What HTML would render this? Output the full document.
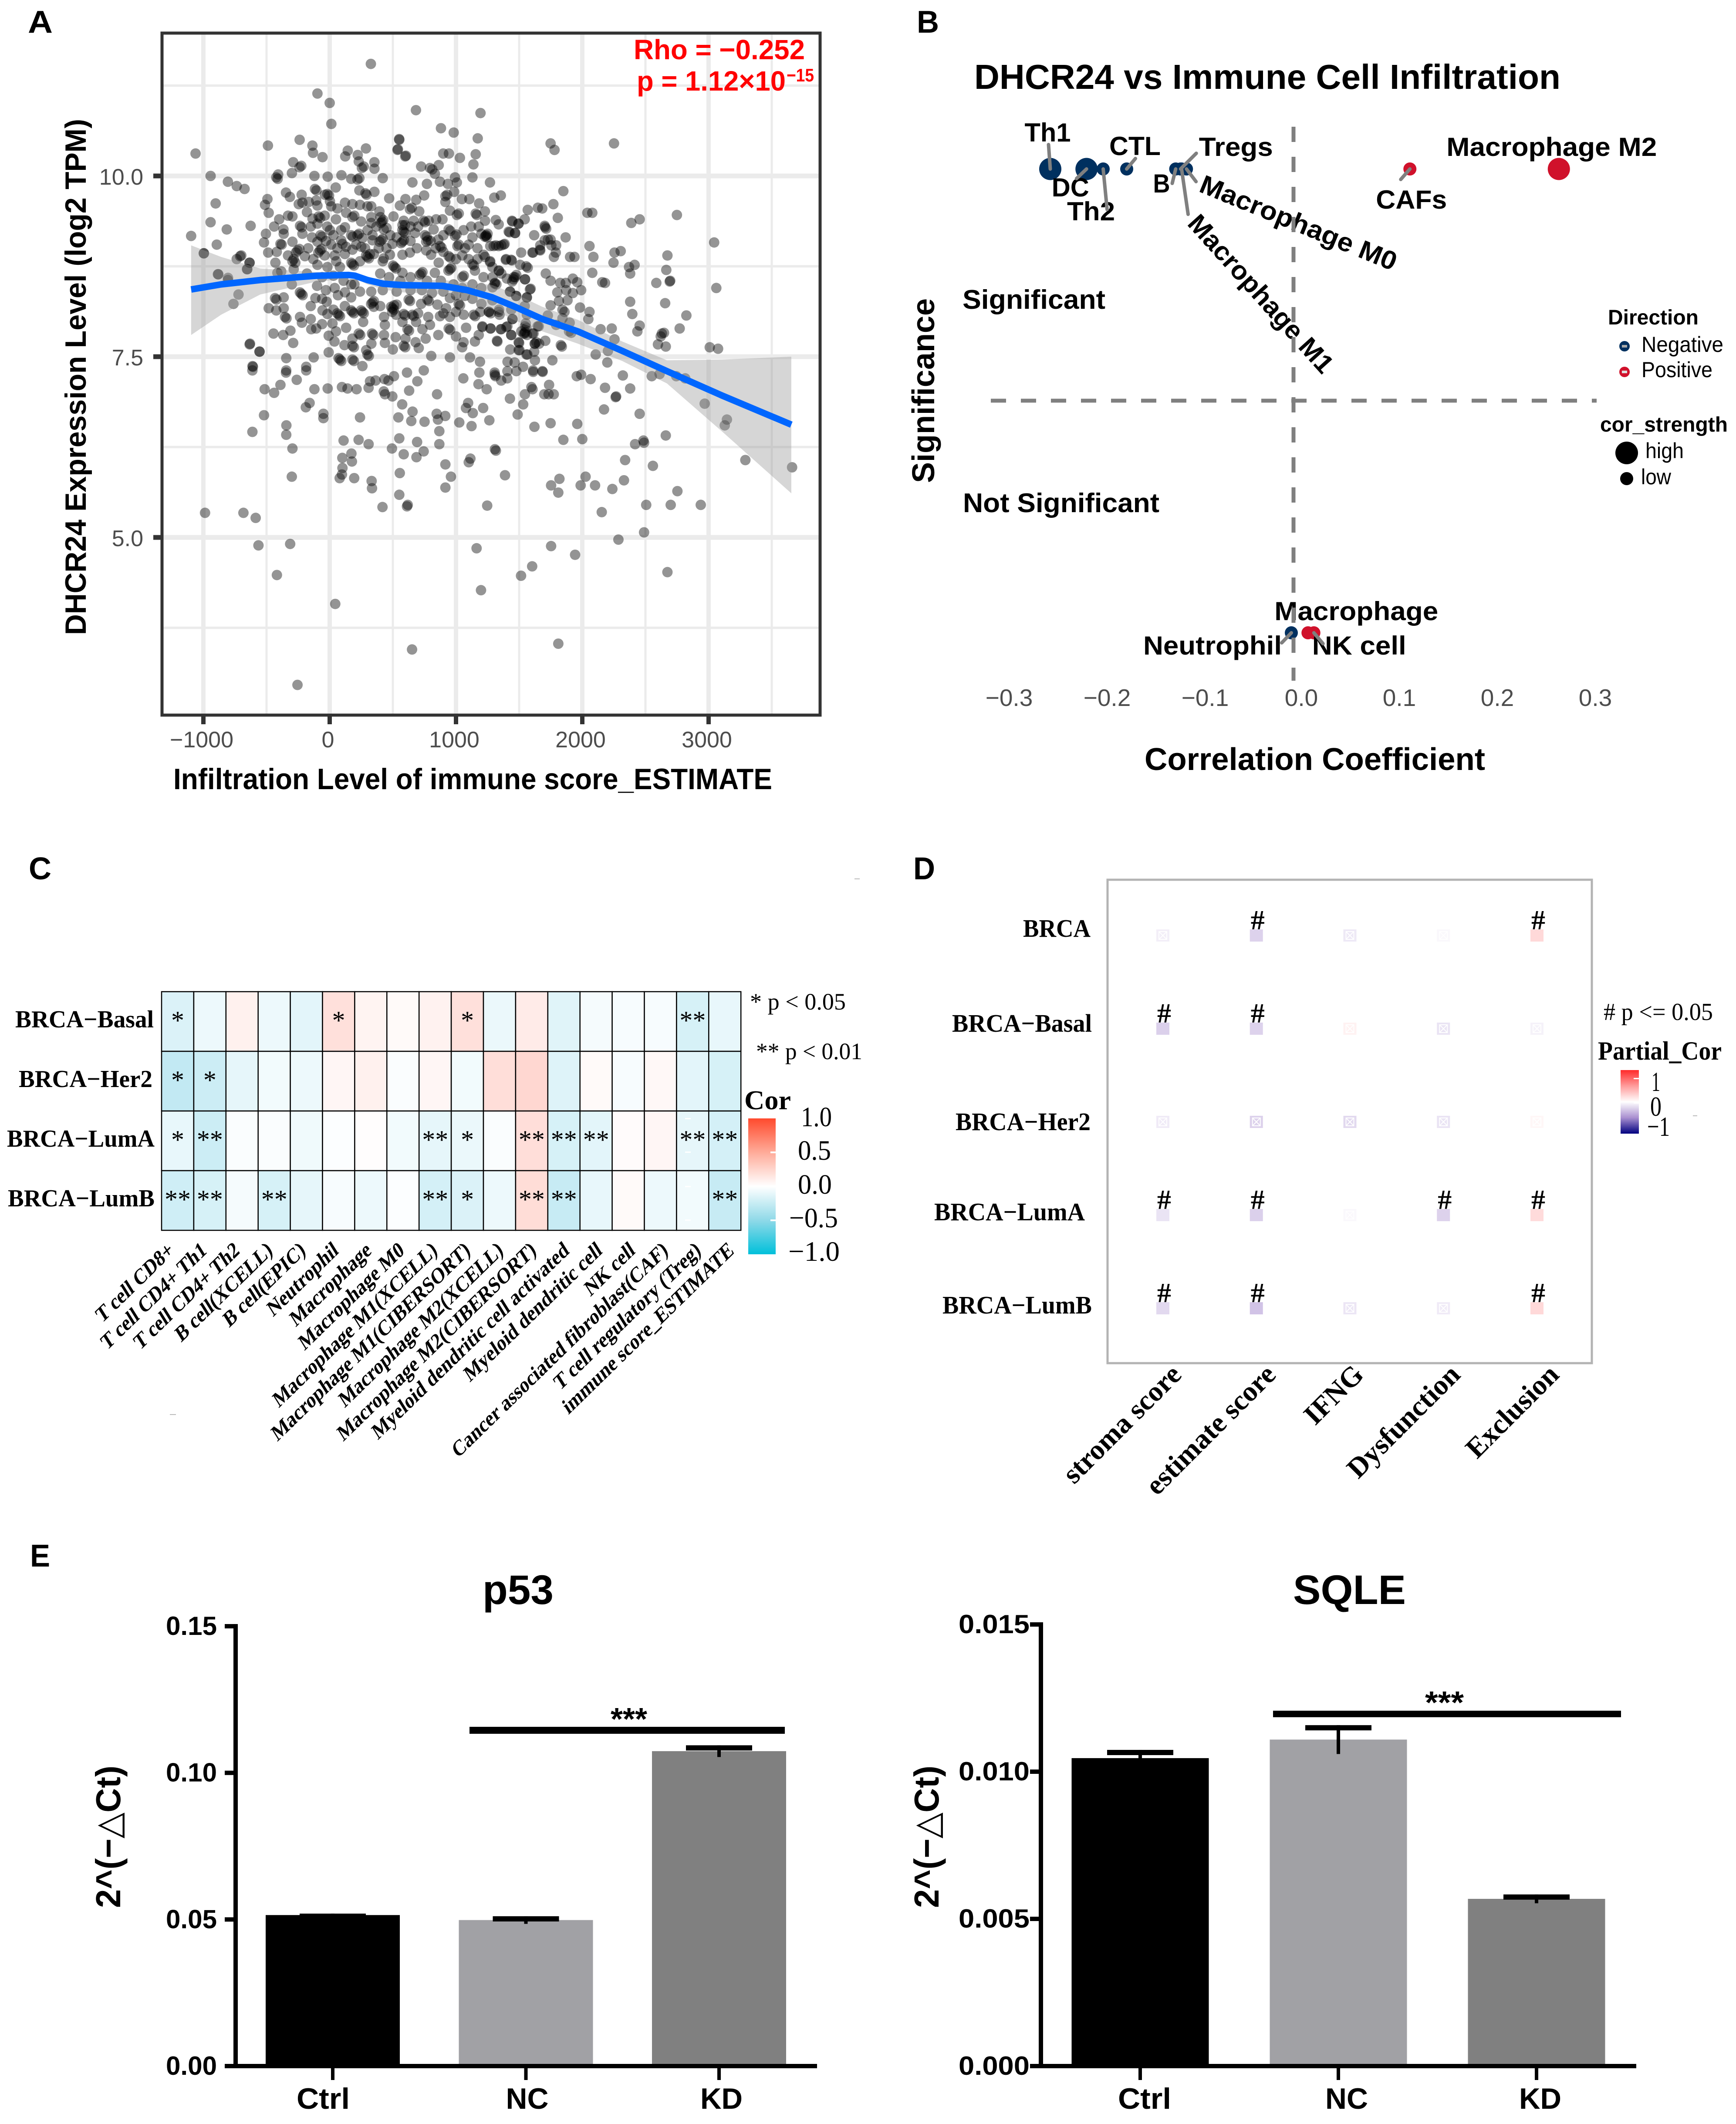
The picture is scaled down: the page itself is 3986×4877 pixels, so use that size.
<!DOCTYPE html>
<html lang="en">
<head>
<meta charset="utf-8">
<title>DHCR24 immune infiltration figure</title>
<style>
html,body{margin:0;padding:0;background:#fff}
svg{display:block}
.sb{font-family:"Liberation Sans",sans-serif;font-weight:bold;fill:#000}
.sr{font-family:"Liberation Sans",sans-serif;fill:#000}
.tb{font-family:"Liberation Serif",serif;font-weight:bold;fill:#000}
.tr{font-family:"Liberation Serif",serif;fill:#000}
</style>
</head>
<body>
<svg id="fig" xmlns="http://www.w3.org/2000/svg" width="3986" height="4877" viewBox="0 0 3986 4877">
<defs>
<linearGradient id="corGrad" x1="0" y1="0" x2="0" y2="1">
<stop offset="0" stop-color="#ff4a2d"/><stop offset=".25" stop-color="#ffab99"/><stop offset=".5" stop-color="#ffffff"/><stop offset=".75" stop-color="#8fd9e8"/><stop offset="1" stop-color="#00c0da"/>
</linearGradient>
<linearGradient id="partialGrad" x1="0" y1="0" x2="0" y2="1">
<stop offset="0" stop-color="#ff2a2a"/><stop offset=".25" stop-color="#ff9c9c"/><stop offset=".5" stop-color="#ffffff"/><stop offset=".75" stop-color="#a98fd0"/><stop offset="1" stop-color="#00007f"/>
</linearGradient>
<clipPath id="clipA"><rect x="375" y="79" width="1505" height="1560"/></clipPath>
</defs>
<rect x="0" y="0" width="3986" height="4877" fill="#fff"/>

<!-- Panel labels -->
<text class="sb" x="64" y="75" font-size="72" textLength="57" lengthAdjust="spacingAndGlyphs">A</text>
<text class="sb" x="2105" y="75" font-size="72" textLength="51" lengthAdjust="spacingAndGlyphs">B</text>
<text class="sb" x="66" y="2019" font-size="72" textLength="52" lengthAdjust="spacingAndGlyphs">C</text>
<text class="sb" x="2097" y="2019" font-size="72" textLength="50" lengthAdjust="spacingAndGlyphs">D</text>
<text class="sb" x="69" y="3597" font-size="72" textLength="46" lengthAdjust="spacingAndGlyphs">E</text>

<!-- Panel A -->
<g id="panelA">
<g id="gridA"></g>
<g id="pointsA" clip-path="url(#clipA)"></g>
<g id="smoothA" clip-path="url(#clipA)"></g>
<rect x="372" y="76" width="1511" height="1566" fill="none" stroke="#333" stroke-width="7"/>
<g id="axesA"></g>
<text class="sb" x="398" y="1812" font-size="68" textLength="1375" lengthAdjust="spacingAndGlyphs">Infiltration Level of immune score_ESTIMATE</text>
<text class="sb" transform="translate(197,1458) rotate(-90)" x="0" y="0" font-size="68" textLength="1185" lengthAdjust="spacingAndGlyphs">DHCR24 Expression Level (log2 TPM)</text>
<text class="sb" x="1455" y="136" font-size="64" style="fill:#ff0000" textLength="393" lengthAdjust="spacingAndGlyphs">Rho = −0.252</text>
<text class="sb" x="1462" y="208" font-size="64" style="fill:#ff0000" textLength="342" lengthAdjust="spacingAndGlyphs">p = 1.12×10</text>
<text class="sb" x="1806" y="187" font-size="42" style="fill:#ff0000" textLength="63" lengthAdjust="spacingAndGlyphs">−15</text>
</g>

<!-- Panel B -->
<g id="panelB">
<text class="sb" x="2237" y="204" font-size="80" textLength="1346" lengthAdjust="spacingAndGlyphs">DHCR24 vs Immune Cell Infiltration</text>
<g id="marksB"></g>
<line x1="2970" y1="291" x2="2970" y2="1563" stroke="#7f7f7f" stroke-width="9" stroke-dasharray="35 34"/>
<line x1="2275" y1="920" x2="3666" y2="920" stroke="#7f7f7f" stroke-width="9" stroke-dasharray="35 34"/>
<g id="axesB"></g>
<text class="sb" x="2210" y="709" font-size="62" textLength="328" lengthAdjust="spacingAndGlyphs">Significant</text>
<text class="sb" x="2211" y="1176" font-size="62" textLength="451" lengthAdjust="spacingAndGlyphs">Not Significant</text>
<text class="sb" transform="translate(2145,1109) rotate(-90)" x="0" y="0" font-size="72" textLength="424" lengthAdjust="spacingAndGlyphs">Significance</text>
<text class="sb" x="2628" y="1768" font-size="72" textLength="782" lengthAdjust="spacingAndGlyphs">Correlation Coefficient</text>
<text class="sb" x="3692" y="745" font-size="48" textLength="208" lengthAdjust="spacingAndGlyphs">Direction</text>
<circle cx="3730" cy="795" r="12" fill="#00305f"/>
<line x1="3724" y1="795" x2="3736" y2="795" stroke="#aaa" stroke-width="6"/>
<text class="sr" x="3769" y="808" font-size="50" textLength="188" lengthAdjust="spacingAndGlyphs">Negative</text>
<circle cx="3730" cy="854" r="12" fill="#d0112b"/>
<line x1="3724" y1="854" x2="3736" y2="854" stroke="#ddd" stroke-width="6"/>
<text class="sr" x="3769" y="866" font-size="50" textLength="163" lengthAdjust="spacingAndGlyphs">Positive</text>
<text class="sb" x="3674" y="991" font-size="48" textLength="293" lengthAdjust="spacingAndGlyphs">cor_strength</text>
<circle cx="3735" cy="1040" r="26" fill="#000"/>
<text class="sr" x="3778" y="1052" font-size="50" textLength="88" lengthAdjust="spacingAndGlyphs">high</text>
<circle cx="3735" cy="1099" r="15" fill="#000"/>
<text class="sr" x="3768" y="1112" font-size="50" textLength="69" lengthAdjust="spacingAndGlyphs">low</text>
</g>

<!-- Panel C -->
<g id="panelC">
<g id="cellsC"></g>
<g id="labelsC"></g>
<text class="tr" x="1722" y="2318" font-size="54" textLength="220" lengthAdjust="spacingAndGlyphs">* p &lt; 0.05</text>
<text class="tr" x="1736" y="2432" font-size="54" textLength="244" lengthAdjust="spacingAndGlyphs">** p &lt; 0.01</text>
<text class="tb" x="1709" y="2547" font-size="62" textLength="107" lengthAdjust="spacingAndGlyphs">Cor</text>
<rect x="1718" y="2568" width="63" height="312" fill="url(#corGrad)"/>
<g fill="#fff">
<rect x="1769" y="2644" width="12" height="4"/>
<rect x="1769" y="2722" width="12" height="4"/>
<rect x="1769" y="2800" width="12" height="4"/>
<rect x="1573" y="2567" width="13" height="3"/>
<rect x="1573" y="2644" width="13" height="3"/>
<rect x="1573" y="2723" width="13" height="3"/>
<rect x="1573" y="2800" width="13" height="3"/>
</g>
<text class="tr" x="1839" y="2586" font-size="65" textLength="71" lengthAdjust="spacingAndGlyphs">1.0</text>
<text class="tr" x="1832" y="2663" font-size="65" textLength="76" lengthAdjust="spacingAndGlyphs">0.5</text>
<text class="tr" x="1832" y="2741" font-size="65" textLength="78" lengthAdjust="spacingAndGlyphs">0.0</text>
<text class="tr" x="1812" y="2818" font-size="65" textLength="112" lengthAdjust="spacingAndGlyphs">−0.5</text>
<text class="tr" x="1810" y="2895" font-size="65" textLength="118" lengthAdjust="spacingAndGlyphs">−1.0</text>
<rect x="1962" y="2017" width="12" height="2" fill="#bbb"/>
<rect x="390" y="3247" width="14" height="2" fill="#bbb"/>
</g>

<!-- Panel D -->
<g id="panelD">
<rect x="2543" y="2020" width="1112" height="1110" fill="none" stroke="#b3b3b3" stroke-width="5"/>
<g id="cellsD"></g>
<text class="tr" x="3682" y="2342" font-size="56" textLength="251" lengthAdjust="spacingAndGlyphs"># p &lt;= 0.05</text>
<text class="tb" x="3669" y="2433" font-size="60" textLength="284" lengthAdjust="spacingAndGlyphs">Partial_Cor</text>
<rect x="3721" y="2457" width="42" height="146" fill="url(#partialGrad)"/>
<rect x="3751" y="2475" width="12" height="3" fill="#fff"/>
<rect x="3751" y="2531" width="12" height="3" fill="#fff"/>
<text class="tr" x="3792" y="2505" font-size="64" textLength="20" lengthAdjust="spacingAndGlyphs">1</text>
<text class="tr" x="3789" y="2562" font-size="64" textLength="26" lengthAdjust="spacingAndGlyphs">0</text>
<text class="tr" x="3782" y="2608" font-size="64" textLength="52" lengthAdjust="spacingAndGlyphs">−1</text>
<rect x="3887" y="2561" width="10" height="2" fill="#bbb"/>
</g>

<!-- Panel E -->
<g id="panelE">
<text class="sb" x="1108" y="3683" font-size="95" textLength="163" lengthAdjust="spacingAndGlyphs">p53</text>
<text class="sb" x="2969" y="3683" font-size="95" textLength="259" lengthAdjust="spacingAndGlyphs">SQLE</text>
<g id="chartP53"></g>
<g id="chartSQLE"></g>
<rect x="1078" y="3965" width="724" height="16" fill="#000"/>
<text class="sb" x="1402" y="3972" font-size="72" textLength="84" lengthAdjust="spacingAndGlyphs">***</text>
<rect x="2923" y="3928" width="799" height="15" fill="#000"/>
<text class="sb" x="3272" y="3934" font-size="72" textLength="89" lengthAdjust="spacingAndGlyphs">***</text>
<text class="sb" transform="translate(276,4381) rotate(-90)" x="0" y="0" font-size="80" textLength="327" lengthAdjust="spacingAndGlyphs" style="font-family:'Liberation Sans','DejaVu Sans',sans-serif">2^(−△Ct)</text>
<text class="sb" transform="translate(2155,4381) rotate(-90)" x="0" y="0" font-size="80" textLength="327" lengthAdjust="spacingAndGlyphs" style="font-family:'Liberation Sans','DejaVu Sans',sans-serif">2^(−△Ct)</text>
</g>
</svg>

<script>
/* ---------- Panel A data ---------- */
const scatterXTicks = [-1000, 0, 1000, 2000, 3000];
const scatterXMinor = [-500, 500, 1500, 2500, 3500];
const scatterYTicks = [10.0, 7.5, 5.0];
const scatterYMinor = [11.25, 8.75, 6.25, 3.75];
const scatterPoints = [
[326,11.55],[-97,11.14],[0,11.01],[683,10.91],[13,10.72],[1194,10.87],[881,10.66],[982,10.6],[1172,10.52],[551,10.5],[537,10.36],[603,10.28],[-238,10.5],[-137,10.42],[-132,10.32],[-489,10.42],[-1062,10.31],[-943,10],[-806,9.92],[-736,9.86],[-674,9.82],[-903,9.62],[-943,9.36],[-815,9.26],[-1097,9.17],[-626,9.31],[-894,9.05],[-996,8.93],[-709,8.89],[-634,8.8],[-885,8.64],[-806,8.56],[-652,8.71],[-722,8.36],[-762,8.23],[-634,7.67],[-555,7.57],[-608,7.36],[-515,7.05],[-440,7],[-520,6.69],[-612,6.46],[-344,6.42],[-295,6.23],[-300,5.84],[-987,5.34],[-683,5.34],[-586,5.27],[-564,4.89],[-313,4.91],[-418,4.48],[44,4.08],[652,3.45],[-255,2.96],[1810,3.53],[2674,4.52],[1198,4.27],[1163,4.85],[1515,4.47],[1603,4.6],[1753,4.88],[1943,4.76],[2286,4.97],[2489,5.07],[2154,5.35],[2506,5.45],[2700,5.45],[2938,5.45],[2753,5.64],[2238,5.67],[2330,5.79],[2101,5.72],[1987,5.72],[2026,5.84],[1810,5.62],[1819,5.81],[1753,5.72],[1247,5.44],[1388,5.86],[1101,6.04],[1114,6.09],[916,5.69],[960,5.84],[916,6.01],[612,5.43],[551,5.59],[555,5.89],[418,5.42],[335,5.68],[194,5.82],[79,5.82],[97,5.87],[101,5.96],[176,6.05],[586,6.15],[687,6.11],[744,6.19],[692,6.32],[551,6.37],[493,6.23],[308,6.29],[229,6.35],[110,6.34],[1308,6.22],[1316,6.2],[868,6.29],[868,6.47],[1123,6.54],[1026,6.59],[1264,6.62],[1621,6.53],[1749,6.58],[1850,6.35],[2000,6.36],[1960,6.57],[2339,6.07],[2418,6.29],[2489,6.31],[2484,6.34],[2559,5.99],[2661,6.41],[2454,6.71],[2172,6.77],[2969,6.85],[3145,6.63],[3128,6.55],[3291,6.07],[3661,5.97],[3009,7.63],[3075,7.61],[2771,7.89],[2824,8.07],[2656,8.24],[2586,8.52],[2661,7.64],[2630,7.82],[2621,7.78],[2647,7.83],[2599,7.67],[2692,8.54],[2696,8.55],[2665,8.7],[2674,8.9],[3061,8.45],[3044,9.08],[2749,9.46],[2454,9.4],[2388,9.35],[2304,8.96],[2255,8.94],[2247,8.8],[2379,8.65],[2414,8.77],[2370,8.74],[2379,8.26],[2396,8.09],[2454,7.93],[2436,7.85],[2079,9.49],[2040,9.49],[2057,9.03],[2088,8.88],[2251,10.45],[1749,10.45],[1780,10.36],[1850,9.79],[1771,9.61],[1648,9.56],[1683,9.55],[1568,9.53],[1806,9.42],[1868,9.15],[1705,9.29],[1749,9.12],[1793,9.04],[1775,8.88],[1903,8.88],[1938,8.88],[2079,8.66],[2158,8.53],[2180,8.52],
[1925,8.58],[1960,8.53],[1991,8.42],[1802,8.39],[1872,8.42],[1925,8.38],[1982,8.18],[2057,8.12],[2048,8.02],[1815,8.27],[1859,8.12],[1749,8.21],[1727,8.07],[1793,7.94],[1912,7.83],[2145,7.88],[2233,7.89],[2255,7.74],[2106,7.53],[2198,7.42],[2321,7.24],[2379,7.06],[2264,6.94],[2268,6.95],[1991,7.25],[1956,7.23],[2066,7.19],[2180,7.07],[2550,7.23],[2612,7.26],[2744,7.23],[2815,7.2],
[-612,7.31],[-346,7.28],[-186,7.31],[-261,7.18],[-390,7.11],[-121,7.05],[-16,7.06],[97,7.08],[141,7.06],[213,7.05],[308,7.07],[319,7.16],[363,7.17],[434,7.19],[465,7.17],[509,7.23],[612,7.28],[745,7.31],[694,7.16],[629,7.03],[428,7.02],[438,6.98],[496,6.95],[574,6.84],[850,6.98],[1058,7.2],[1178,7.12],[1243,7.05],[1185,7.28],[1307,7.25],[1312,7.23],[1358,7.17],[1406,7.2],[1478,7.3],[1611,7.29],[1686,7.29],[1427,6.92],[1546,6.98],[1597,7.08],[1606,7.05],[1532,6.84],[1737,7.11],[1699,6.98],[1733,6.98],[1774,6.98],
[-159,6.86],[-189,6.8],[-50,6.71],[-50,6.65],[240,6.66],[544,6.66],[656,6.74],[646,6.61],[751,6.6],[847,6.71],[915,6.68],[857,6.63],[1079,6.79],[1096,6.86],[1133,6.72],[1215,6.79],[1488,6.7],[172,6.16],[100,6.1],[332,5.78],[618,5.45],[-343,6.55],
[1303,9.7],[1355,9.73],[1443,9.38],[1544,9.4],[1494,9.34],[1315,9.39],[1338,9.33],[1702,9.31],[1714,9.27],[1424,9.22],[1468,9.21],[1619,9.18],[1702,9.11],[1728,9.12],[1667,9.04],[1755,9.04],[1385,9.06],[1359,9.04],[1315,9.04],[1271,9.03],[1236,9.17],[1245,9.15],[1201,9.2],[1218,8.91],[1271,8.82],[1610,8.94],[1667,8.97],[1790,8.94],[1711,8.65],[1749,8.55],[1825,8.52],[1869,8.52],[1883,8.28],[1843,8.15],[1843,8.03],[1900,7.97],[1895,7.85],[1646,7.92],[1552,7.96],[1544,7.82],[1562,7.8],[1614,7.82],[1517,7.85],[1438,7.8],[1354,7.88],[1398,7.91],[1274,7.89],[1209,7.91],[1500,7.69],[1503,7.59],[1324,7.72],[1558,7.53],[1623,7.68],[1619,7.57],[1707,7.72],[1658,7.68],[1830,7.66],[1838,7.64],[1429,7.6],[1408,7.43],[1464,7.42],[1531,7.36],[1610,7.31],[1684,7.3],[1306,7.28],[1763,7.45],[2203,7.58],
[1508,8.77],[1556,8.75],[1568,8.73],[1394,8.84],[1442,8.83],[1341,8.69],[1359,8.65],[1289,8.6],[1218,8.6],[1478,8.63],[1456,8.57],[1468,8.6],[1445,8.54],[1403,8.58],[1547,8.57],[1306,8.51],[1289,8.46],[1591,8.44],[1429,8.4],[1477,8.34],[1561,8.32],[1544,8.2],[1438,8.15],[1262,8.12],[1275,8.1],[1345,8.08],[1341,8.15],[1192,8.12],[1447,8.02],[1561,8.08],[1201,8.23],[1289,8.28],
[-57,10.26],[-289,10.19],[-239,10.12],[-225,10.14],[-299,10.04],[-423,9.98],[-412,9.96],[-408,10.02],[-121,10],[-16,9.99],[93,10.01],[143,10.35],[123,10.27],[287,10.38],[222,10.29],[230,10.2],[255,10.11],[270,10.13],[354,10.19],[354,10.1],[170,9.96],[220,9.95],[235,9.97],[420,9.97],[550,10.51],[540,10.37],[598,10.27],[899,10.31],[944,10.31],[1031,10.25],[1156,10.3],[1138,10.16],[1130,9.98],[863,10.15],[794,10.11],[812,10.09],[724,10.13],[833,10.03],[655,9.91],[770,9.89],[873,9.92],[936,9.89],[992,9.98],[1007,9.91],[1269,9.91],[986,9.78],[916,9.72],[930,9.74],[916,9.64],[1047,9.68],[1106,9.68],[1183,9.62],[1229,9.51],[952,9.52],[1007,9.46],[1022,9.48],[1156,9.48],[1165,9.46],[748,9.73],[685,9.67],[600,9.68],[556,9.59],[635,9.54],[650,9.56],[709,9.51],[471,9.69],[354,9.78],[283,9.76],[292,9.74],[235,9.8],[48,9.84],[-18,9.75],[-5,9.73],[-38,9.74],[-117,9.82],[-105,9.8],[-222,9.74],[-346,9.77],[-315,9.71],[-493,9.68],[-512,9.6],[-483,9.49],[-245,9.61],[-216,9.63],[-166,9.64],[-107,9.66],[-97,9.59],[2,9.65],[12,9.58],[61,9.55],[121,9.63],[180,9.61],[240,9.6],[299,9.58],[329,9.58],[394,9.51],[131,9.49],[180,9.43],[195,9.45],[249,9.37],[329,9.43],[329,9.35],[402,9.43],[414,9.37],[424,9.39],[405,9.35],[505,9.44],[586,9.38],[596,9.32],[665,9.38],[744,9.38],[755,9.36],[784,9.38],[843,9.4],[893,9.4],[-295,9.44],[-136,9.41],[-87,9.44],[-75,9.42],[-97,9.34],[-235,9.31],[-222,9.29],[-216,9.2],[-366,9.26],[-364,9.2],[-505,9.2],[-520,9.08],[-390,9.06],[-419,8.95],[-487,8.94],[-295,9.09],[-255,8.97],[-240,8.99],[-268,8.94],[-196,8.89],[-285,8.85],[-295,8.82],[-272,8.8],[-73,9.18],[-60,9.16],[-97,9.09],[-77,8.97],[-64,8.99],[-90,8.94],[12,9.05],[2,9.25],[121,9.29],[170,9.18],[182,9.16],[220,9.18],[232,9.2],[259,9.14],[91,9.11],[101,9.06],[339,9.18],[339,9.11],[408,9.11],[420,9.13],[395,9.09],[428,9.26],[388,9],[497,9.06],[576,9.09],[588,9.11],[565,9.07],[586,9.23],[598,9.21],[575,9.25],[576,9.32],[675,9.21],[754,9.18],[768,9.16],[764,9.09],[778,9.11],[823,9.26],[942,9.26],[955,9.24],[992,9.17],[1004,9.19],[1011,9.03],[1022,9.05],[1071,9],[1130,9.15],[1239,9.18],[1250,9.2],[1228,9.16],[1170,9],[1298,9.03],[1338,9.03],[1378,9.05],[1447,9.37],[1496,9.34],[1417,9.23],[1467,9.21],
[-97,8.77],[-18,8.74],[52,8.82],[81,8.74],[180,8.78],[192,8.76],[170,8.8],[240,8.82],[299,8.88],[310,8.86],[288,8.9],[319,8.92],[428,8.86],[477,8.91],[513,8.74],[525,8.72],[502,8.76],[576,8.91],[635,8.94],[576,8.66],[724,8.65],[735,8.67],[712,8.63],[803,8.91],[764,8.97],[873,9.03],[885,9.01],[863,8.8],[942,8.89],[954,8.87],[952,8.71],[963,8.73],[940,8.69],[833,8.66],[1051,8.6],[1062,8.62],[1130,8.78],[1142,8.76],[1170,8.85],[1229,8.88],[1269,8.81],[1150,8.69],[1288,8.74],[1338,8.69],[1397,8.85],[1437,8.84],[1516,8.94],[1605,8.94],[1664,8.98],[1457,8.6],[1308,8.52],[1320,8.5],[1546,8.57],[1427,8.4],[1476,8.34],[1585,8.43],[1561,8.32],
[-414,8.66],[-384,8.68],[-285,8.71],[-655,8.71],[-635,8.8],[-700,8.9],[-736,8.85],[-882,8.64],[-997,8.93],[-805,8.59],[-225,8.37],[-214,8.35],[-236,8.39],[-364,8.32],[-433,8.31],[-422,8.29],[-483,8.17],[-423,8.14],[-364,8.17],[-354,8.05],[-342,8.03],[-235,8.05],[-150,8.02],[-220,7.97],[-146,7.88],[-107,7.89],[-113,8.31],[-24,8.26],[65,8.35],[170,8.32],[121,8.39],[196,8.5],[329,8.4],[-18,8.09],[-57,8.14],[71,8.08],[82,8.06],[60,8.1],[180,8.12],[192,8.1],[170,8.14],[259,8.12],[270,8.1],[248,8.14],[339,8.25],[350,8.27],[328,8.23],[349,8.19],[22,7.96],[-8,7.79],[38,7.71],[117,7.66],[180,7.65],[192,7.63],[289,7.59],[299,7.53],[310,7.51],[230,7.82],[242,7.8],[335,7.82],[346,7.8],[265,7.98],
[437,7.94],[522,7.77],[437,7.69],[497,8.17],[508,8.15],[486,8.19],[510,8.21],[495,8.12],[586,8.09],[598,8.07],[655,8.08],[666,8.06],[625,8.29],[636,8.27],[724,8.23],[774,8.29],[785,8.27],[853,8.22],[922,8.17],[952,8.31],[1021,8.23],[1032,8.21],[1070,8.34],[873,8.06],[952,8.05],[1061,8.08],[1140,8.08],[1152,8.06],[1259,8.12],[1338,8.12],[1209,7.92],[1273,7.89],[1358,7.88],[1407,7.92],[1447,8.02],[1546,7.92],[1558,7.9],[1605,7.82],[1536,7.82],[1548,7.84],[1180,7.8],[1150,7.71],[1328,7.71],[1437,7.8],[1496,7.7],[1625,7.68],[1636,7.7],[1049,7.63],[942,7.89],[954,7.87],[794,7.94],[734,7.88],[616,7.88],[628,7.86],[684,7.98],[576,7.98],[526,8.08],[586,7.65],[598,7.63],[705,7.62],[804,7.51],[952,7.49],[1111,7.49],[1190,7.43],[1407,7.3],[1496,7.59],[1565,7.53],[1625,7.45],[1655,7.92],
[-631,7.68],[-556,7.57],[-344,7.48],[-127,7.49],[-8,7.56],[81,7.46],[92,7.44],[70,7.48],[180,7.46],[192,7.44],[259,7.37],[-611,7.37],[-344,7.31],[-186,7.36],[-445,7.82],[-368,7.8],[-311,7.86],[-289,7.69],
[-180,9.5],[-150,9.3],[-40,9.45],[-20,9.3],[50,9.4],[90,9.25],[-140,9.15],[-30,9.1],[30,9.18],[60,9],[-170,9],[-130,8.85],[-40,8.9],[40,8.9],[120,8.92],[180,8.98],[250,9.02],[300,9.25],[370,9.3],[450,9.28],[480,9.18],[530,9.15],[450,9],[420,8.82],[350,8.92],[280,9],[130,9.02],[210,9.05],[640,9.1],[690,9],[640,9.3],[700,9.3],[800,9.1],[860,9.12],[900,9.18],[840,9],[900,8.95],[1000,8.85],[1050,8.9],[1100,8.85],[1100,9.05],[1060,9.25],[1120,9.3],[1180,9.3],[1230,9.38],[-400,9.4],[-440,9.3],[-330,9.45],[-380,9.05],[-330,8.9],[-430,8.8],[-180,8.65],[-60,8.6],[30,8.62],[110,8.55],[170,8.5],[400,8.65],[470,8.6],[560,8.55],[640,8.6],[770,8.55],[880,8.55],[980,8.5],[1050,8.45],[1130,8.5],[1200,8.45],[-100,8.48],[-30,8.42],[40,8.45],[240,8.4],[420,8.42],[530,8.4],[640,8.42],[730,8.42],[810,8.38],[900,8.4],[1000,8.35],[1130,8.3],[-300,8.5],[-150,8.2],[-60,8.3],[30,8.15],[120,8.2],[400,8.2],[430,8.05],[530,8.22],[700,8.1],[780,8.05],[900,8.1],[1000,8.12],[-60,7.95],[50,7.85],[130,7.9],[180,7.75],[330,7.68],[430,7.8],[500,7.6],[600,7.75],[680,7.7],[760,7.75],[860,7.8],[1000,7.78],[1060,7.7],[1080,7.9]
];
const smoothX = [-1097,-860,-550,-100,150,200,300,420,575,893,1090,1288,1467,1684,1965,2317,2670,3110,3655];
const smoothY = [8.43,8.5,8.56,8.62,8.63,8.62,8.56,8.51,8.49,8.48,8.42,8.32,8.19,8.02,7.85,7.58,7.3,6.96,6.56];
const ribbonHigh = [9.04,8.88,8.72,8.67,8.66,8.65,8.6,8.57,8.56,8.56,8.53,8.49,8.37,8.19,8.01,7.71,7.45,7.46,7.5];
const ribbonLow = [7.8,8.08,8.36,8.54,8.58,8.58,8.5,8.43,8.39,8.36,8.3,8.16,8,7.85,7.68,7.44,7.13,6.46,5.61];

/* ---------- Panel B data ---------- */
const cellNames = ['Th1','DC','Th2','CTL','B','Tregs','Macrophage M1','Macrophage M0','Macrophage M2','CAFs','Neutrophil','Macrophage','NK cell'];
const cellCorrelation = [-0.258,-0.221,-0.204,-0.18,-0.13,-0.125,-0.124,-0.119,0.261,0.109,-0.012,0.005,0.011];
const cellSignificant = [1,1,1,1,1,1,1,1,1,1,0,0,0];
const cellStrength = ['high','high','low','low','low','low','low','low','high','low','low','low','low'];
const corTicks = [-0.3,-0.2,-0.1,0.0,0.1,0.2,0.3];

/* ---------- Panel C data ---------- */
const subtypeRows = ['BRCA−Basal','BRCA−Her2','BRCA−LumA','BRCA−LumB'];
const immuneColumns = ['T cell CD8+','T cell CD4+ Th1','T cell CD4+ Th2','B cell(XCELL)','B cell(EPIC)','Neutrophil','Macrophage','Macrophage M0','Macrophage M1(XCELL)','Macrophage M1(CIBERSORT)','Macrophage M2(XCELL)','Macrophage M2(CIBERSORT)','Myeloid dendritic cell activated','Myeloid dendritic cell','NK cell','Cancer associated fibroblast(CAF)','T cell regulatory (Treg)','immune score_ESTIMATE'];
const basalCor = [-.14,-.07,.08,-.07,-.11,.17,.06,.03,.07,.17,-.08,.11,-.12,-.04,-.03,-.03,-.16,-.09];
const her2Cor = [-.24,-.2,-.1,-.05,-.07,.05,.08,-.02,.05,-.05,.18,.22,-.13,.03,-.03,.04,-.11,-.16];
const lumACor = [-.09,-.2,-.02,-.02,-.06,-.01,.01,-.05,-.1,-.08,-.02,.18,-.16,-.11,.02,.05,-.1,-.17];
const lumBCor = [-.19,-.16,-.04,-.16,-.1,-.03,-.07,-.01,-.17,-.14,-.07,.19,-.22,-.09,.03,-.07,-.05,-.22];
const basalStars = ['*','','','','','*','','','','*','','','','','','','**',''];
const her2Stars = ['*','*','','','','','','','','','','','','','','','',''];
const lumAStars = ['*','**','','','','','','','**','*','','**','**','**','','','**','**'];
const lumBStars = ['**','**','','**','','','','','**','*','','**','**','','','','','**'];

/* ---------- Panel D data ---------- */
const partialRows = ['BRCA','BRCA−Basal','BRCA−Her2','BRCA−LumA','BRCA−LumB'];
const partialCols = ['stroma score','estimate score','IFNG','Dysfunction','Exclusion'];
const partialBrca = [-.07,-.2,-.1,-.03,.15];
const partialBasal = [-.21,-.2,.05,-.12,-.06];
const partialHer2 = [-.09,-.2,-.17,-.12,.03];
const partialLumA = [-.12,-.21,-.03,-.2,.14];
const partialLumB = [-.17,-.27,-.11,-.09,.15];
const sigBrca = [0,1,0,0,1];
const sigBasal = [1,1,0,0,0];
const sigHer2 = [0,0,0,0,0];
const sigLumA = [1,1,0,1,1];
const sigLumB = [1,1,0,0,1];

/* ---------- Panel E data ---------- */
const groupNames = ['Ctrl','NC','KD'];
const p53Means = [0.0515,0.0498,0.1074];
const p53Errors = [0.0005,0.0013,0.002];
const p53Ticks = ['0.00','0.05','0.10','0.15'];
const sqleMeans = [0.01046,0.01109,0.00568];
const sqleErrors = [0.00028,0.00049,0.00015];
const sqleTicks = ['0.000','0.005','0.010','0.015'];
const barFills = ['#000000','#a1a1a5','#808080'];

/* ---------- helpers ---------- */
const SVGNS = 'http://www.w3.org/2000/svg';
function make(parent, tag, attrs, text){
  const n = document.createElementNS(SVGNS, tag);
  for (const k in attrs) n.setAttribute(k, attrs[k]);
  if (text !== undefined) n.textContent = text;
  parent.appendChild(n);
  return n;
}
function $(id){ return document.getElementById(id); }
function minusSign(s){ return String(s).replace('-', '−'); }
function mix(a, b, t){
  t = Math.max(0, Math.min(1, t));
  const c = a.map((v, i) => Math.round(v + (b[i] - v) * t));
  return 'rgb(' + c.join(',') + ')';
}

/* ---------- Panel A ---------- */
(function(){
  const xA = v => 757 + 0.29 * v;
  const yA = v => 404 + (10 - v) * 166;
  const grid = $('gridA');
  scatterXMinor.forEach(v => {
    const l = make(grid, 'line', {x1:xA(v), x2:xA(v), y1:79, y2:1639, stroke:'#ebebeb', 'stroke-width':5});
    
    
  });
  scatterYMinor.forEach(v => {
    const l = make(grid, 'line', {x1:375, x2:1880, y1:yA(v), y2:yA(v), stroke:'#ebebeb', 'stroke-width':5.5});
    
    
  });
  scatterXTicks.forEach(v => {
    const l = make(grid, 'line', {x1:xA(v), x2:xA(v), y1:79, y2:1639, stroke:'#ebebeb', 'stroke-width':10});
    
    
  });
  scatterYTicks.forEach(v => {
    const l = make(grid, 'line', {x1:375, x2:1880, y1:yA(v), y2:yA(v), stroke:'#ebebeb', 'stroke-width':11});
    
    
  });
  const pts = $('pointsA');
  scatterPoints.forEach(p => {
    const c = make(pts, 'circle', {cx:xA(p[0]), cy:yA(p[1]), r:12, fill:'#000', 'fill-opacity':0.42});
    
    
  });
  const smooth = $('smoothA');
  const up = smoothX.map((x, i) => xA(x) + ',' + yA(ribbonHigh[i]));
  const lo = smoothX.map((x, i) => xA(x) + ',' + yA(ribbonLow[i])).reverse();
  const rib = make(smooth, 'polygon', {points:up.concat(lo).join(' '), fill:'#999', 'fill-opacity':0.4});
  
  
  const line = make(smooth, 'polyline', {points:smoothX.map((x, i) => xA(x) + ',' + yA(smoothY[i])).join(' '), fill:'none', stroke:'#0066ff', 'stroke-width':15, 'stroke-linejoin':'round'});
  
  
  const axes = $('axesA');
  scatterXTicks.forEach(v => {
    const t = make(axes, 'line', {x1:xA(v), x2:xA(v), y1:1645, y2:1663, stroke:'#333', 'stroke-width':10});
    
    
    const s = make(axes, 'text', {x:xA(v) - 4, y:1716, 'text-anchor':'middle', 'font-size':52, fill:'#4d4d4d', 'font-family':'Liberation Sans, sans-serif'}, minusSign(v));
    
    
  });
  scatterYTicks.forEach(v => {
    const t = make(axes, 'line', {x1:352, x2:369, y1:yA(v), y2:yA(v), stroke:'#333', 'stroke-width':11});
    
    
    const s = make(axes, 'text', {x:329, y:yA(v) + 20, 'text-anchor':'end', 'font-size':52, fill:'#4d4d4d', 'font-family':'Liberation Sans, sans-serif'}, v.toFixed(1));
    
    
  });
})();

/* ---------- Panel B ---------- */
(function(){
  const xB = v => 2992 + 2250 * v;
  const yB = s => 1453 - 1065 * s;
  const rad = {high:25.5, low:15};
  /* label placement relative to each point: text dx, dy, width, rotation, leader dx, dy */
  const repel = {
    'Th1':[-59,-61,106,0,-4,-56], 'DC':[-80,65,86,0,-23,22], 'Th2':[-83,120,110,0,9,93],
    'CTL':[-40,-30,118,0,20,-24], 'B':[-52,56,39,0,-8,33], 'Tregs':[42,-28,170,0,36,-36],
    'Macrophage M1':[11,129,466,48,15,104], 'Macrophage M0':[26,53,483,22.3,22,29],
    'Macrophage M2':[-258,-28,483,0,null,null], 'CAFs':[-78,93,163,0,-21,24],
    'Neutrophil':[-340,52,318,0,-22,23], 'Macrophage':[-77,-27,376,0,null,null], 'NK cell':[-4,52,216,0,21,25]
  };
  const g = $('marksB');
  cellNames.forEach((name, i) => {
    const c = make(g, 'circle', {cx:xB(cellCorrelation[i]), cy:yB(cellSignificant[i]), r:rad[cellStrength[i]], fill:cellCorrelation[i] < 0 ? '#00305f' : '#d0112b'});
    
    
  });
  cellNames.forEach((name, i) => {
    const px = xB(cellCorrelation[i]), py = yB(cellSignificant[i]), r = repel[name];
    const tx = px + r[0], ty = py + r[1] - 2;
    const t = make(g, 'text', {x:tx, y:ty, 'font-size':60, 'class':'sb', textLength:r[2], lengthAdjust:'spacingAndGlyphs', transform:r[3] ? 'rotate(' + r[3] + ' ' + tx + ' ' + ty + ')' : ''}, name);
    
    
  });
  cellNames.forEach((name, i) => {
    const r = repel[name];
    if (r[4] === null) return;
    const px = xB(cellCorrelation[i]), py = yB(cellSignificant[i]);
    const l = make(g, 'line', {x1:px, y1:py, x2:px + r[4], y2:py + r[5], stroke:'#7f7f7f', 'stroke-width':8, 'stroke-linecap':'round'});
    
    
  });
  const axes = $('axesB');
  corTicks.forEach(v => {
    const s = make(axes, 'text', {x:xB(v) - (v < 0 ? 0 : 4), y:1621, 'text-anchor':'middle', 'font-size':55, fill:'#4d4d4d', 'font-family':'Liberation Sans, sans-serif'}, minusSign(v.toFixed(1)));
    
    
  });
})();

/* ---------- Panel C ---------- */
(function(){
  const xC = i => 371 + 73.9 * i;
  const yC = r => 2277 + 137 * r;
  const colorC = v => v >= 0 ? mix([255,255,255],[255,74,45],v) : mix([255,255,255],[0,165,205],-v);
  const values = [basalCor, her2Cor, lumACor, lumBCor];
  const stars = [basalStars, her2Stars, lumAStars, lumBStars];
  const g = $('cellsC');
  values.forEach((row, r) => {
    row.forEach((v, c) => {
      const cell = make(g, 'rect', {x:xC(c), y:yC(r), width:73.9, height:137, fill:colorC(v), stroke:'#000', 'stroke-width':2.5});
      
      
    });
  });
  stars.forEach((row, r) => {
    row.forEach((s, c) => {
      if (!s) return;
      const t = make(g, 'text', {x:xC(c) + 37, y:yC(r) + 86, 'text-anchor':'middle', 'font-size':60, 'class':'tr'}, s);
      
      
    });
  });
  const labels = $('labelsC');
  const rowBox = [[35,318],[43,307],[16,339],[18,337]];
  subtypeRows.forEach((name, r) => {
    const t = make(labels, 'text', {x:rowBox[r][0], y:yC(r) + 82, 'font-size':56, 'class':'tb', textLength:rowBox[r][1], lengthAdjust:'spacingAndGlyphs'}, name);
    
    
  });
  immuneColumns.forEach((name, c) => {
    const ex = xC(c) + 37 - 7 + 1.76 * c, ey = 2876;
    const t = make(labels, 'text', {x:0, y:0, 'text-anchor':'end', 'font-size':52, 'class':'tb', transform:'translate(' + ex + ' ' + ey + ') scale(0.8 1) rotate(-38)'}, name);
    
    
  });
})();

/* ---------- Panel D ---------- */
(function(){
  const xD = c => 2670 + 214.75 * c;
  const yD = r => 2148 + 214 * r;
  const colorD = v => v >= 0 ? mix([255,255,255],[255,0,0],v) : mix([255,255,255],[169,143,208],-v / 0.5);
  const values = [partialBrca, partialBasal, partialHer2, partialLumA, partialLumB];
  const sig = [sigBrca, sigBasal, sigHer2, sigLumA, sigLumB];
  const g = $('cellsD');
  values.forEach((row, r) => {
    row.forEach((v, c) => {
      const cx = xD(c), cy = yD(r);
      const cell = make(g, 'rect', {x:cx - 15, y:cy - 14, width:30, height:28, fill:colorD(v)});
      
      
      if (sig[r][c]) {
        const h = make(g, 'text', {x:cx + 3, y:cy - 14, 'text-anchor':'middle', 'font-size':64, 'class':'tb'}, '#');
        
        
      } else {
        const d = make(g, 'path', {d:'M' + (cx - 9) + ' ' + (cy - 9) + 'h18v18h-18zM' + (cx - 9) + ' ' + (cy - 9) + 'l18 18M' + (cx + 9) + ' ' + (cy - 9) + 'l-18 18', fill:'none', stroke:'#fff', 'stroke-width':2});
        
        
      }
    });
  });
  const rowBox = [[2349,155,2151],[2186,321,2369],[2194,310,2595],[2145,346,2802],[2164,343,3016]];
  partialRows.forEach((name, r) => {
    const t = make(g, 'text', {x:rowBox[r][0], y:rowBox[r][2], 'font-size':58, 'class':'tb', textLength:rowBox[r][1], lengthAdjust:'spacingAndGlyphs'}, name);
    
    
  });
  const colEnd = [46,48,35,42,54];
  partialCols.forEach((name, c) => {
    const ex = xD(c) + colEnd[c], ey = 3160;
    const t = make(g, 'text', {x:ex, y:ey, 'text-anchor':'end', 'font-size':65, 'class':'tb', transform:'rotate(-45 ' + ex + ' ' + ey + ')'}, name);
    
    
  });
})();

/* ---------- Panel E ---------- */
function drawBars(host, means, errors, tickLabels, tickStep, xBar, yVal, barW, axisX, axisRight, tickRight, labelLen, labelShift){
  const g = $(host);
  means.forEach((m, i) => {
    const bar = make(g, 'rect', {x:xBar(i) - barW / 2, y:yVal(m), width:barW, height:yVal(0) - yVal(m), fill:barFills[i]});
    
    
    const hi = yVal(m + errors[i]), lo = yVal(m - errors[i]);
    const stem = make(g, 'rect', {x:xBar(i) - 4, y:hi, width:8, height:lo - hi, fill:'#000'});
    
    
    const cap = make(g, 'rect', {x:xBar(i) - 76, y:hi, width:152, height:12, fill:'#000'});
    
    
    const tick = make(g, 'rect', {x:xBar(i) - 4, y:4749, width:8, height:27, fill:'#000'});
    
    
    const widths = [122, 98, 97];
    const name = make(g, 'text', {x:xBar(i) + labelShift[i], y:4842, 'font-size':68, 'class':'sb', textLength:widths[i], lengthAdjust:'spacingAndGlyphs'}, groupNames[i]);
    
    
  });
  const xAxis = make(g, 'rect', {x:axisX - 25, y:4739, width:axisRight - axisX + 25, height:10, fill:'#000'});
  
  
  const yAxis = make(g, 'rect', {x:axisX - 5, y:yVal(tickStep * 3) - 5, width:10, height:yVal(0) - yVal(tickStep * 3) + 10, fill:'#000'});
  
  
  tickLabels.forEach((s, i) => {
    const y = yVal(tickStep * i);
    const t = make(g, 'rect', {x:axisX - 25, y:y - 5, width:25, height:10, fill:'#000'});
    
    
    const l = make(g, 'text', {x:tickRight, y:y + 20, 'text-anchor':'end', 'font-size':60, 'class':'sb', textLength:labelLen, lengthAdjust:'spacingAndGlyphs'}, s);
    
    
  });
}
drawBars('chartP53', p53Means, p53Errors, p53Ticks, 0.05, i => 764 + 443.5 * i, v => 4744 - v * 6733, 308, 541, 1876, 498, 117, [-83,-46,-43]);
drawBars('chartSQLE', sqleMeans, sqleErrors, sqleTicks, 0.005, i => 2618 + 455 * i, v => 4744 - v * 67600, 315, 2390, 3757, 2364, 163, [-51,-30,-40]);
</script>
</body>
</html>
